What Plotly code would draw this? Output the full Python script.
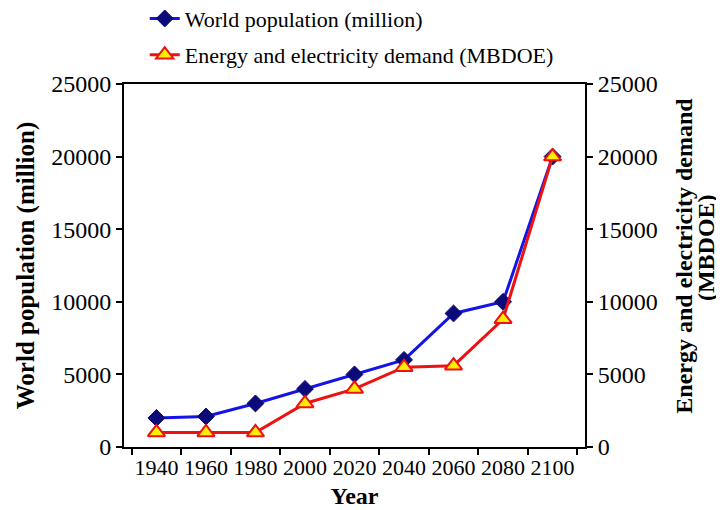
import plotly.graph_objects as go

years = ["1940", "1960", "1980", "2000", "2020", "2040", "2060", "2080", "2100"]
population = [2000, 2100, 3000, 4000, 5000, 6000, 9200, 10000, 20000]
energy = [1000, 1000, 1000, 3000, 4000, 5500, 5600, 8800, 20000]
y_ticks = [0, 5000, 10000, 15000, 20000, 25000]
y_tick_labels = ["0", "5000", "10000", "15000", "20000", "25000"]
boundary_ticks = [i - 0.5 for i in range(len(years) + 1)]
right_title_lines = ["Energy and electricity demand", "(MBDOE)"]

FONT = "Liberation Serif"

fig = go.Figure()
fig.add_trace(go.Scatter(
    x=years, y=population, name="World population (million)",
    mode="lines+markers", legend="legend",
    line=dict(color="#1414e6", width=3),
    marker=dict(symbol="diamond", size=13, color="#0a0a78",
                line=dict(color="#0a0a78", width=1)),
))
fig.add_trace(go.Scatter(
    x=years, y=energy, name="Energy and electricity demand (MBDOE)",
    mode="lines+markers", legend="legend2", yaxis="y2",
    line=dict(color="#ee1111", width=3),
    marker=dict(symbol="triangle-up", size=15, color="#ffee00",
                line=dict(color="#ee1111", width=2)),
))

axis_common = dict(showgrid=False, zeroline=False, linecolor="black", linewidth=2,
                   tickcolor="black", tickwidth=1.5, ticklen=6, automargin=False)
ytickfont = dict(family=FONT, size=24, color="black")
xtickfont = dict(family=FONT, size=22, color="black")
legend_font = dict(family=FONT, size=22, color="black")

fig.update_layout(
    width=716, height=502,
    margin=dict(l=116, r=139, t=76, b=63, autoexpand=False),
    paper_bgcolor="white", plot_bgcolor="white",
    font=dict(family=FONT, color="black"),
    showlegend=True,
    legend=dict(x=0.045, y=1.18, xanchor="left", yanchor="middle",
                font=legend_font, bgcolor="rgba(0,0,0,0)"),
    legend2=dict(x=0.045, y=1.08, xanchor="left", yanchor="middle",
                 font=legend_font, bgcolor="rgba(0,0,0,0)"),
    xaxis=dict(type="category", tickson="boundaries", ticks="outside",
               showline=True, mirror=True, tickangle=0, tickfont=xtickfont,
               title=dict(text="<b>Year</b>", font=dict(family=FONT, size=24), standoff=8),
               **axis_common),
    xaxis2=dict(overlaying="x", anchor="y", range=[-0.5, len(years) - 0.5],
                tickmode="array", tickvals=boundary_ticks, ticks="inside",
                showticklabels=False, showline=False, showgrid=False, zeroline=False,
                ticklen=6, tickwidth=1.5, tickcolor="black"),
    yaxis=dict(range=[0, 25000], tickmode="array", tickvals=y_ticks, ticktext=y_tick_labels,
               ticks="outside", showline=True, tickfont=ytickfont,
               title=dict(text="<b>World population (million)</b>",
                          font=dict(family=FONT, size=25), standoff=9),
               **axis_common),
    yaxis2=dict(range=[0, 25000], tickmode="array", tickvals=y_ticks, ticktext=y_tick_labels,
                ticks="outside", overlaying="y", side="right", showline=True, anchor="x",
                tickfont=ytickfont, **axis_common),
    yaxis3=dict(range=[0, 25000], tickmode="array", tickvals=y_ticks, ticks="inside",
                overlaying="y", side="left", anchor="x", showticklabels=False,
                showline=False, showgrid=False, zeroline=False,
                ticklen=6, tickwidth=1.5, tickcolor="black"),
    yaxis4=dict(range=[0, 25000], tickmode="array", tickvals=y_ticks, ticks="inside",
                overlaying="y", side="right", anchor="x", showticklabels=False,
                showline=False, showgrid=False, zeroline=False,
                ticklen=6, tickwidth=1.5, tickcolor="black"),
    annotations=[
        dict(text="<b>" + right_title_lines[0] + "</b>", textangle=-90,
             xref="paper", yref="paper", x=1.214, y=0.526,
             xanchor="center", yanchor="middle", showarrow=False,
             font=dict(family=FONT, size=24, color="black")),
        dict(text="<b>" + right_title_lines[1] + "</b>", textangle=-90,
             xref="paper", yref="paper", x=1.264, y=0.55,
             xanchor="center", yanchor="middle", showarrow=False,
             font=dict(family=FONT, size=24, color="black")),
    ],
)

fig.write_html("out.html")
